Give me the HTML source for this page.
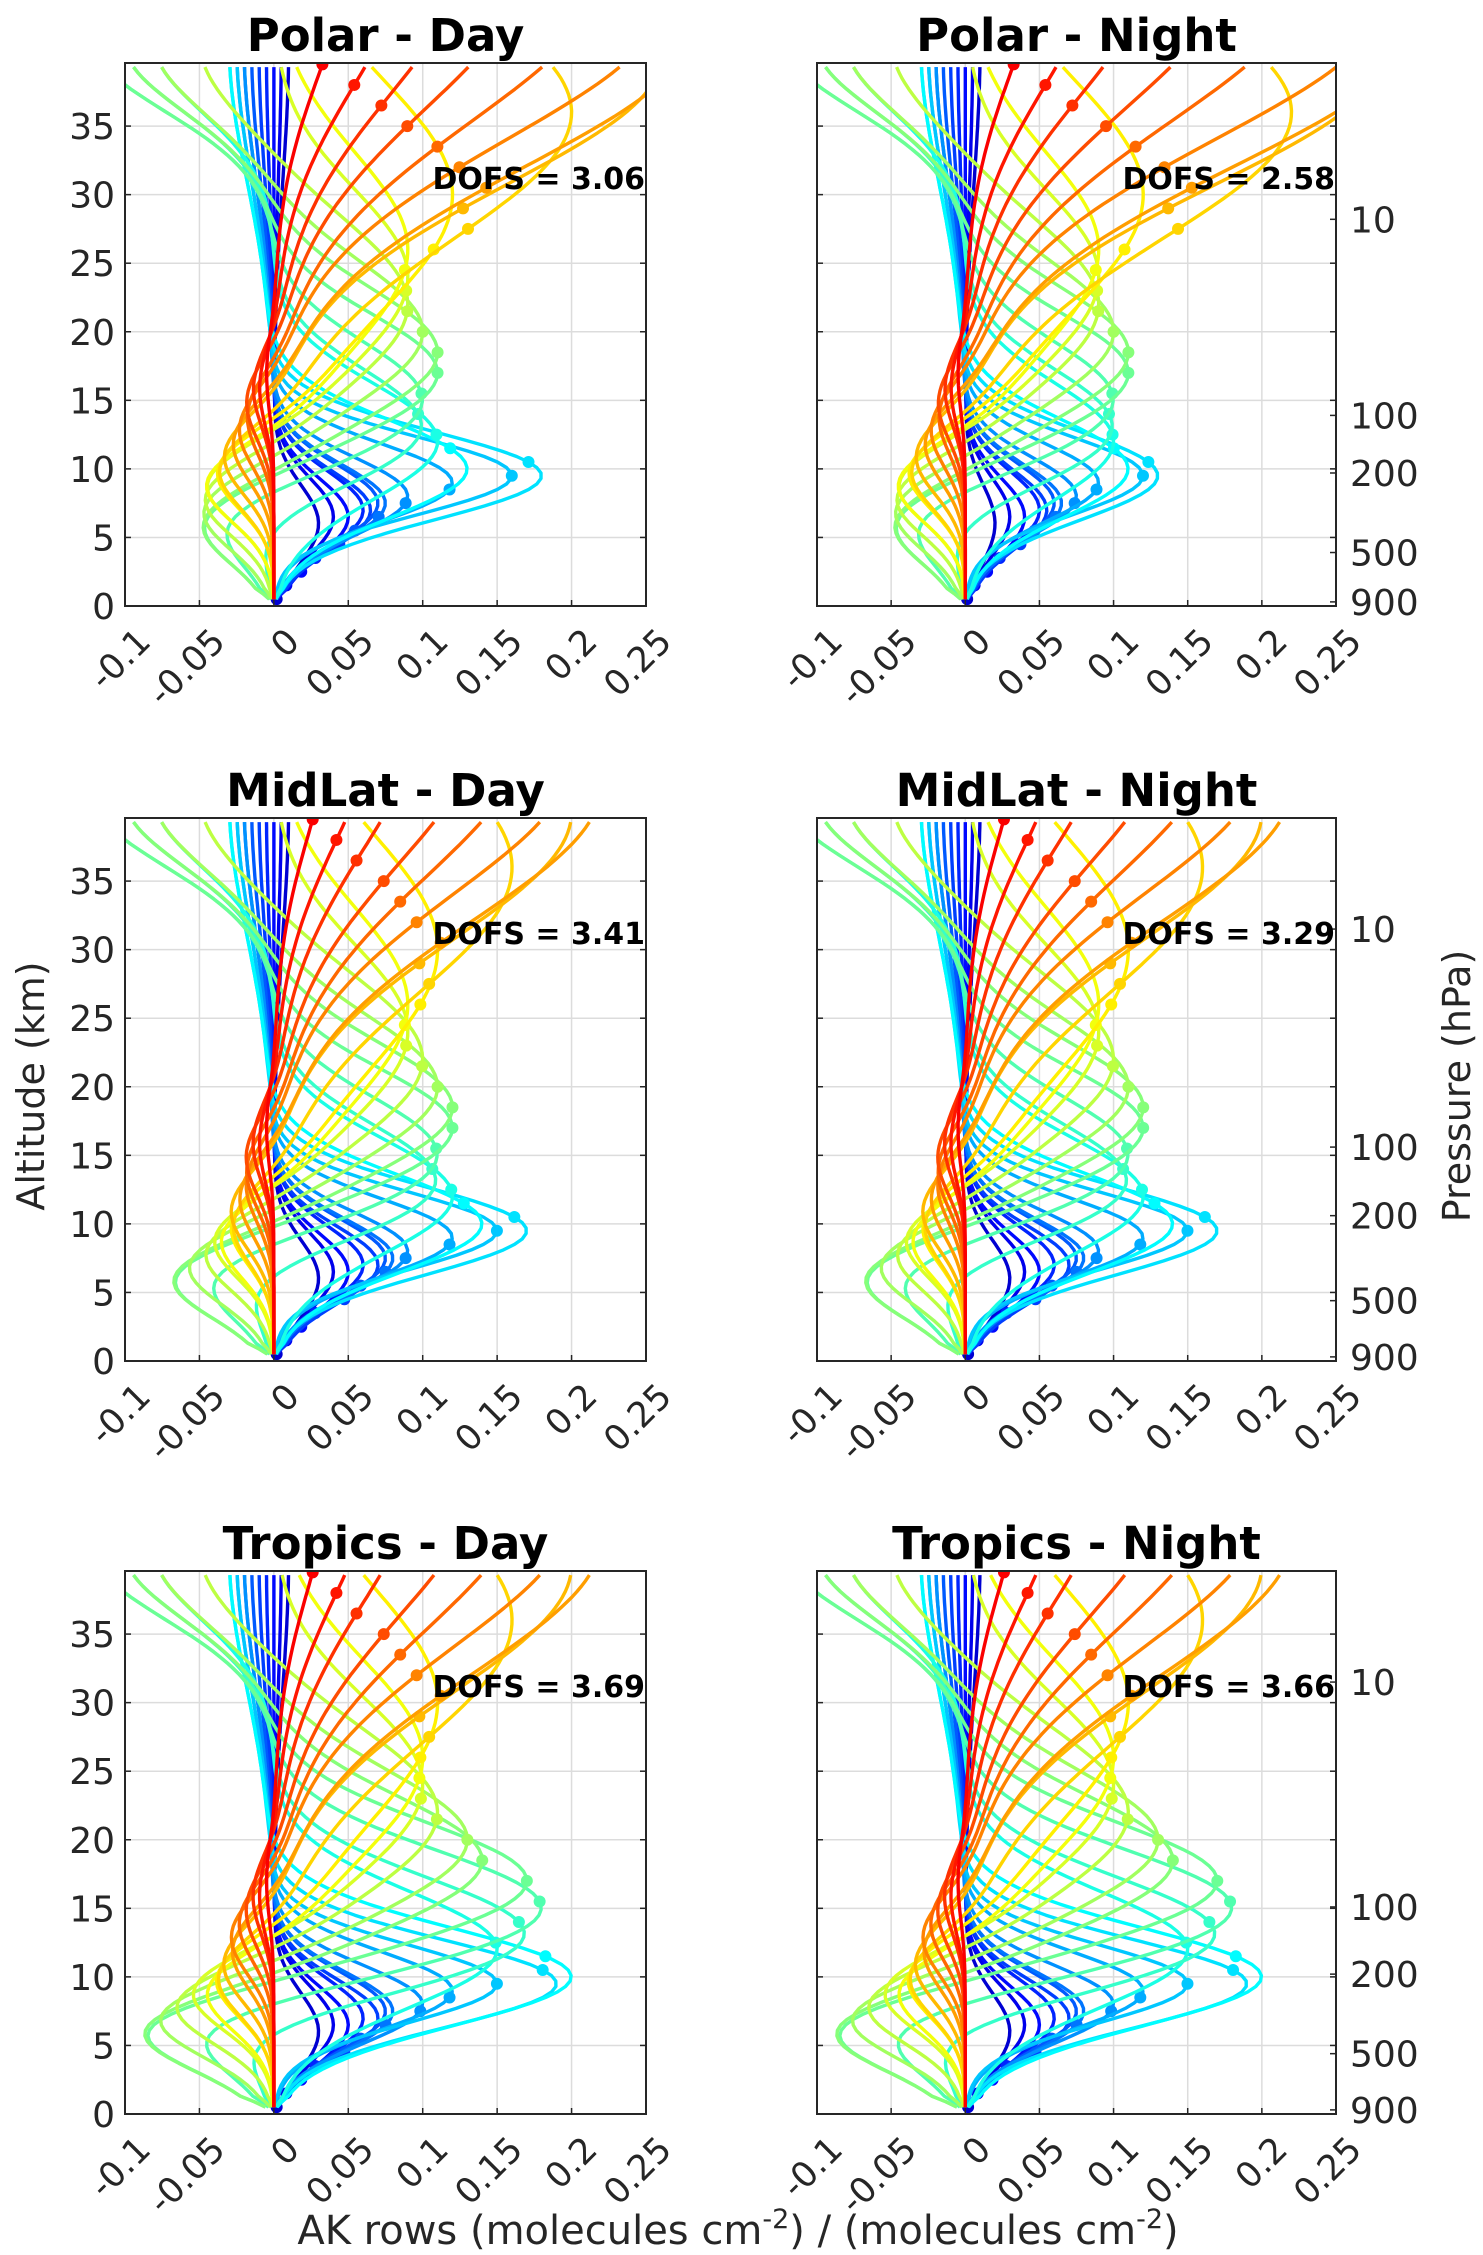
<!DOCTYPE html>
<html><head><meta charset="utf-8"><style>
html,body{margin:0;padding:0;background:#fff;}
svg{display:block;font-family:"DejaVu Sans","Liberation Sans",sans-serif;}
</style></head><body>
<svg id="fig" width="1483" height="2255" viewBox="0 0 1483 2255" xmlns="http://www.w3.org/2000/svg"></svg>
<script>
// ---- data ----
const xTicks = [-0.1,-0.05,0,0.05,0.1,0.15,0.2,0.25];
const xTickLabels = ["-0.1","-0.05","0","0.05","0.1","0.15","0.2","0.25"];
const yTicks = [0,5,10,15,20,25,30,35];
const panelTitles = ["Polar - Day","Polar - Night","MidLat - Day","MidLat - Night","Tropics - Day","Tropics - Night"];
const dofsValues = ["3.06","2.58","3.41","3.29","3.69","3.66"];
const pressureLabels = ["10","100","200","500","900"];
const pressureAltRow1 = [28.2,13.9,9.7,3.9,0.3];
const pressureAltRow2 = [31.5,15.6,10.6,4.4,0.3];
const pressureAltRow3 = [31.5,15.1,10.2,4.4,0.3];
// AK row nominal altitudes (km)
const levels = [0.5,1.5,2.5,3.5,4.5,5.5,6.5,7.5,8.5,9.5,10.5,11.5,12.5,14,15.5,17,18.5,20,21.5,23,24.5,26,27.5,29,30.5,32,33.5,35,36.5,38,39.5];
// positive lobe centre / width (km)
const posCenter = [6,6.5,6.5,7,7,7.5,7.5,8,9,9.5,9.5,10,12,13,15,17,18.5,20,22,24,26,30,36,40,42,44,46,47,48,48,48];
const posWidth  = [4,4,4,4,4,4,4,4,4,4,4.5,5,6,6,6,6,6.5,7,8,9,10,12,13,13,14,14,15,15,15,14,13];
// low negative lobe centre / width
const lowCenter = [7,7,7,7,7,7,7,7,7,7,7,7,7,6,6,6,6,7,8,9,9,10,10,11,12,13,14,15,16,16,17];
const lowWidth  = [4,4,4,4,4,4,4,4,4,4,4,4,4,4,4,4,4,4,4,4,4,4,4,4,4,4,4,4,4,4,4];
// upper negative lobe amplitude (shared)
const hiNeg = [-0.01,-0.005,0,0.005,0.01,0.015,0.02,0.02,0.025,0.025,0.03,0.03,0.08,0.1,0.12,0.12,0.1,0.08,0.05,0,0,0,0,0,0,0,0,0,0,0,0];
// peak amplitudes per panel
const peakPolarDay   = [0.03,0.04,0.05,0.06,0.065,0.07,0.075,0.09,0.12,0.16,0.18,0.13,0.11,0.10,0.10,0.11,0.11,0.10,0.09,0.09,0.09,0.12,0.2,0.26,0.28,0.26,0.22,0.17,0.13,0.09,0.05];
const peakPolarNight = [0.02,0.03,0.04,0.05,0.055,0.06,0.065,0.075,0.09,0.12,0.13,0.11,0.10,0.10,0.10,0.11,0.11,0.10,0.09,0.09,0.09,0.12,0.22,0.28,0.30,0.28,0.23,0.18,0.13,0.09,0.05];
const peakMidDay     = [0.03,0.04,0.05,0.06,0.07,0.075,0.08,0.09,0.12,0.15,0.17,0.14,0.12,0.11,0.11,0.12,0.12,0.11,0.10,0.09,0.09,0.11,0.16,0.2,0.22,0.2,0.17,0.14,0.1,0.07,0.04];
const peakMidNight   = [0.03,0.04,0.05,0.06,0.07,0.075,0.08,0.09,0.12,0.15,0.17,0.14,0.12,0.11,0.11,0.12,0.12,0.11,0.10,0.09,0.09,0.11,0.16,0.2,0.22,0.2,0.17,0.14,0.1,0.07,0.04];
const peakTropDay    = [0.03,0.04,0.05,0.06,0.07,0.075,0.08,0.1,0.12,0.15,0.19,0.2,0.15,0.17,0.18,0.17,0.14,0.13,0.11,0.10,0.10,0.11,0.16,0.2,0.22,0.2,0.17,0.14,0.1,0.07,0.04];
const peakTropNight  = [0.03,0.04,0.05,0.06,0.07,0.075,0.08,0.1,0.12,0.15,0.19,0.2,0.15,0.17,0.18,0.17,0.14,0.13,0.11,0.10,0.10,0.11,0.16,0.2,0.22,0.2,0.17,0.14,0.1,0.07,0.04];
const lowNegPolar = [0,0,0,0,0,0,0,0,0,0,0,0,0,0.02,0.04,0.05,0.05,0.05,0.05,0.05,0.05,0.045,0.04,0.035,0.03,0.025,0.02,0.02,0.015,0.01,0.005];
const lowNegMid   = [0,0,0,0,0,0,0,0,0,0,0,0,0,0.03,0.05,0.07,0.07,0.06,0.05,0.045,0.04,0.035,0.03,0.03,0.025,0.02,0.02,0.02,0.015,0.01,0.005];
const lowNegTrop  = [0,0,0,0,0,0,0,0,0,0,0,0,0,0.04,0.06,0.09,0.09,0.08,0.07,0.06,0.05,0.045,0.04,0.035,0.03,0.03,0.025,0.02,0.015,0.01,0.005];

const panelPeaks = [peakPolarDay,peakPolarNight,peakMidDay,peakMidNight,peakTropDay,peakTropNight];
const panelLowNeg = [lowNegPolar,lowNegPolar,lowNegMid,lowNegMid,lowNegTrop,lowNegTrop];
const pressureAlts = [pressureAltRow1,pressureAltRow2,pressureAltRow3];

// ---- layout ----
const NS="http://www.w3.org/2000/svg";
const svg=document.getElementById('fig');
const colX=[[125,646],[817,1336]];
const rowY=[[63,606],[818,1361],[1571,2114]];
const XMIN=-0.1,XMAX=0.25,YMIN=0,YMAX=39.6;
function mk(tag,attrs,parent){const e=document.createElementNS(NS,tag);for(const k in attrs)e.setAttribute(k,attrs[k]);(parent||svg).appendChild(e);return e;}
function jet(t){
  const r=Math.min(Math.max(Math.min(4*t-1.5,-4*t+4.5),0),1);
  const g=Math.min(Math.max(Math.min(4*t-0.5,-4*t+3.5),0),1);
  const b=Math.min(Math.max(Math.min(4*t+0.5,-4*t+2.5),0),1);
  return `rgb(${Math.round(r*255)},${Math.round(g*255)},${Math.round(b*255)})`;
}
function ak(i,z,peaks,lowNeg){
  const p=peaks[i]*Math.exp(-Math.pow((z-posCenter[i])/posWidth[i],2));
  const l=lowNeg[i]*Math.exp(-Math.pow((z-lowCenter[i])/lowWidth[i],2));
  const hw = i<12 ? 14 : 7;
  const h=hiNeg[i]*Math.exp(-Math.pow((z-41)/hw,2));
  const base=Math.min(1,z/1.2);
  return (p-l-h)*base;
}

for(let p=0;p<6;p++){
  const c=p%2,r=Math.floor(p/2);
  const [x0,x1]=colX[c],[y0,y1]=rowY[r];
  const sx=v=>x0+(v-XMIN)/(XMAX-XMIN)*(x1-x0);
  const sy=v=>y1-(v-YMIN)/(YMAX-YMIN)*(y1-y0);
  const g=mk('g',{});
  
  
  const cp=mk('clipPath',{id:'cp'+p},g);
  mk('rect',{x:x0,y:y0,width:x1-x0,height:y1-y0},cp);
  const grid=mk('g',{stroke:'#dcdcdc','stroke-width':1.5},g);
  
  
  xTicks.forEach(v=>{mk('line',{x1:sx(v),x2:sx(v),y1:y0,y2:y1},grid);});
  yTicks.forEach(v=>{mk('line',{x1:x0,x2:x1,y1:sy(v),y2:sy(v)},grid);});
  const cg=mk('g',{'clip-path':`url(#cp${p})`,fill:'none','stroke-width':3.4,'stroke-linejoin':'round'},g);
  const peaks=panelPeaks[p],lowNeg=panelLowNeg[p];
  for(let i=0;i<levels.length;i++){
    const col=jet(0.08+0.80*i/(levels.length-1));
    let d='';
    for(let z=0.5;z<=YMAX+0.01;z+=0.4){
      d+=(d?'L':'M')+sx(ak(i,z,peaks,lowNeg)).toFixed(1)+','+sy(z).toFixed(1);
    }
    const path=mk('path',{d:d,stroke:col},cg);
    
    
    const dot=mk('circle',{cx:sx(ak(i,levels[i],peaks,lowNeg)),cy:sy(levels[i]),r:6,fill:col,stroke:'none'},cg);
    
    
  }
  const box=mk('rect',{x:x0,y:y0,width:x1-x0,height:y1-y0,fill:'none',stroke:'#262626','stroke-width':2},g);
  
  
  xTicks.forEach((v,k)=>{
    mk('line',{x1:sx(v),x2:sx(v),y1:y1,y2:y1-6,stroke:'#262626','stroke-width':1.5},g);
    const tx=sx(v)+10,ty=y1+20;
    const t=mk('text',{x:tx,y:ty,'font-size':35,fill:'#262626','text-anchor':'end',transform:`rotate(-45 ${tx} ${ty})`,'dominant-baseline':'hanging'},g);
    t.textContent=xTickLabels[k];
    
    
  });
  yTicks.forEach(v=>{
    mk('line',{x1:x0,x2:x0+6,y1:sy(v),y2:sy(v),stroke:'#262626','stroke-width':1.5},g);
    mk('line',{x1:x1,x2:x1-6,y1:sy(v),y2:sy(v),stroke:'#262626','stroke-width':1.5},g);
    if(c===0){
      const t=mk('text',{x:x0-10,y:sy(v)+13,'font-size':36,fill:'#262626','text-anchor':'end'},g);
      t.textContent=String(v);
      
      
    }
  });
  if(c===1){
    pressureAlts[r].forEach((a,k)=>{
      mk('line',{x1:x1,x2:x1-6,y1:sy(a),y2:sy(a),stroke:'#262626','stroke-width':1.5},g);
      const t=mk('text',{x:x1+14,y:sy(a)+13,'font-size':36,fill:'#262626'},g);
      t.textContent=pressureLabels[k];
      
      
    });
  }
  const tt=mk('text',{x:(x0+x1)/2,y:y0-12,'font-size':45,'font-weight':'bold','text-anchor':'middle',fill:'#000'},g);
  tt.textContent=panelTitles[p];
  
  
  const dt=mk('text',{x:x1-1,y:sy(31.2)+11,'font-size':30,'font-weight':'bold','text-anchor':'end',fill:'#000'},g);
  dt.textContent='DOFS = '+dofsValues[p];
  
  
}
const yl=mk('text',{x:44,y:1086,'font-size':38,fill:'#262626','text-anchor':'middle',transform:'rotate(-90 44 1086)'});
yl.textContent='Altitude (km)';


const pl=mk('text',{x:1470,y:1086,'font-size':38,fill:'#262626','text-anchor':'middle',transform:'rotate(-90 1470 1086)'});
pl.textContent='Pressure (hPa)';


const xl=mk('text',{x:738,y:2244,'font-size':40,fill:'#262626','text-anchor':'middle'});


xl.innerHTML='AK rows (molecules cm<tspan dy="-16" font-size="27">-2</tspan><tspan dy="16">) / (molecules cm</tspan><tspan dy="-16" font-size="27">-2</tspan><tspan dy="16">)</tspan>';
</script>
</body></html>
